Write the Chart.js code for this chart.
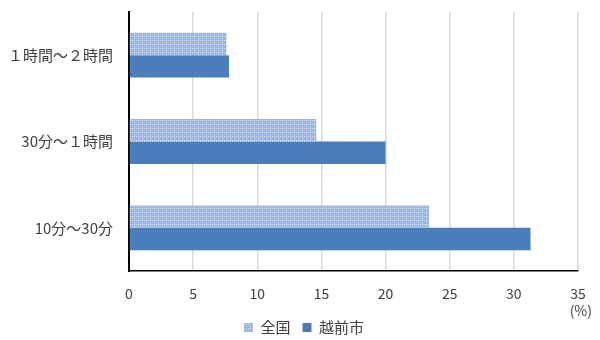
<!DOCTYPE html>
<html>
<head>
<meta charset="utf-8">
<script src="https://cdn.jsdelivr.net/npm/chart.js@4/dist/chart.umd.min.js"></script>
<style>
  html, body { margin: 0; padding: 0; background: #fff; }
  #wrap { width: 600px; height: 340px; }
</style>
</head>
<body>
<div id="wrap"><canvas id="myChart" width="600" height="340"></canvas></div>
<script>
// data
const categories = ['１時間～２時間', '30分～１時間', '10分～30分'];
const zenkoku = [7.6, 14.6, 23.4];
const echizen = [7.8, 20.0, 31.3];
const seriesNames = ['全国', '越前市'];
const xTicks = [0, 5, 10, 15, 20, 25, 30, 35];
const unitLabel = '(%)';

const FONT = "'Noto Sans CJK JP', 'Noto Sans', sans-serif";

// dotted light blue fill for 全国
function dotPattern() {
    var c = document.createElement('canvas');
    c.width = 4;
    c.height = 4;
    var g = c.getContext('2d');
    g.fillStyle = '#9ab6de';
    g.fillRect(0, 0, 4, 4);
    g.fillStyle = '#d4e1f2';
    g.fillRect(0, 0, 1, 1);
    g.fillRect(2, 2, 1, 1);
    g.fillRect(2, 0, 1, 1);
    return g.createPattern(c, 'repeat');
}

// legend sits a bit right of centre in the original
const shiftLegend = {
    id: 'shiftLegend',
    afterLayout: function(chart) {
        if (chart.legend) {
            chart.legend.left += 15;
            chart.legend.right += 15;
        }
    }
};

// the (%) unit hangs past the right end of the axis
const unitText = {
    id: 'unitText',
    afterDraw: function(chart) {
        var x = chart.scales.x;
        var c = chart.ctx;
        c.save();
        c.font = '14px ' + FONT;
        c.fillStyle = '#404040';
        c.textAlign = 'right';
        c.textBaseline = 'middle';
        c.fillText(unitLabel, x.right + 14, x.top + 40);
        c.restore();
    }
};

var ctx = document.getElementById('myChart').getContext('2d');
new Chart(ctx, {
    type: 'bar',
    data: {
        labels: categories,
        datasets: [{
            label: seriesNames[0],
            data: zenkoku,
            backgroundColor: dotPattern(),
            borderWidth: 0
        }, {
            label: seriesNames[1],
            data: echizen,
            backgroundColor: '#4a7ebb',
            borderWidth: 0
        }]
    },
    options: {
        indexAxis: 'y',
        responsive: false,
        animation: false,
        layout: { padding: { top: 12, right: 22, left: 0, bottom: -5 } },
        datasets: { bar: { categoryPercentage: 0.52, barPercentage: 1.0 } },
        scales: {
            x: {
                min: 0,
                max: 35,
                afterBuildTicks: function(scale) {
                    scale.ticks = xTicks.map(function(v) { return { value: v }; });
                },
                afterFit: function(scale) { scale.height = 37; },
                grid: { color: '#d9d9d9', lineWidth: 1.5, drawTicks: false },
                border: { color: '#000', width: 1.5 },
                ticks: { color: '#404040', font: { family: FONT, size: 14 }, padding: 14 }
            },
            y: {
                afterFit: function(scale) {
                    scale.width = 129;
                    scale.paddingTop = 0;
                    scale.paddingBottom = 0;
                },
                grid: { display: false, drawTicks: false },
                border: { color: '#000', width: 2 },
                ticks: { color: '#404040', font: { family: FONT, size: 15 }, padding: 16 }
            }
        },
        plugins: {
            legend: {
                position: 'bottom',
                labels: {
                    boxWidth: 9,
                    boxHeight: 9,
                    padding: 12,
                    color: '#404040',
                    font: { family: FONT, size: 15 }
                }
            },
            tooltip: { enabled: false }
        }
    },
    plugins: [shiftLegend, unitText]
});
</script>
</body>
</html>
